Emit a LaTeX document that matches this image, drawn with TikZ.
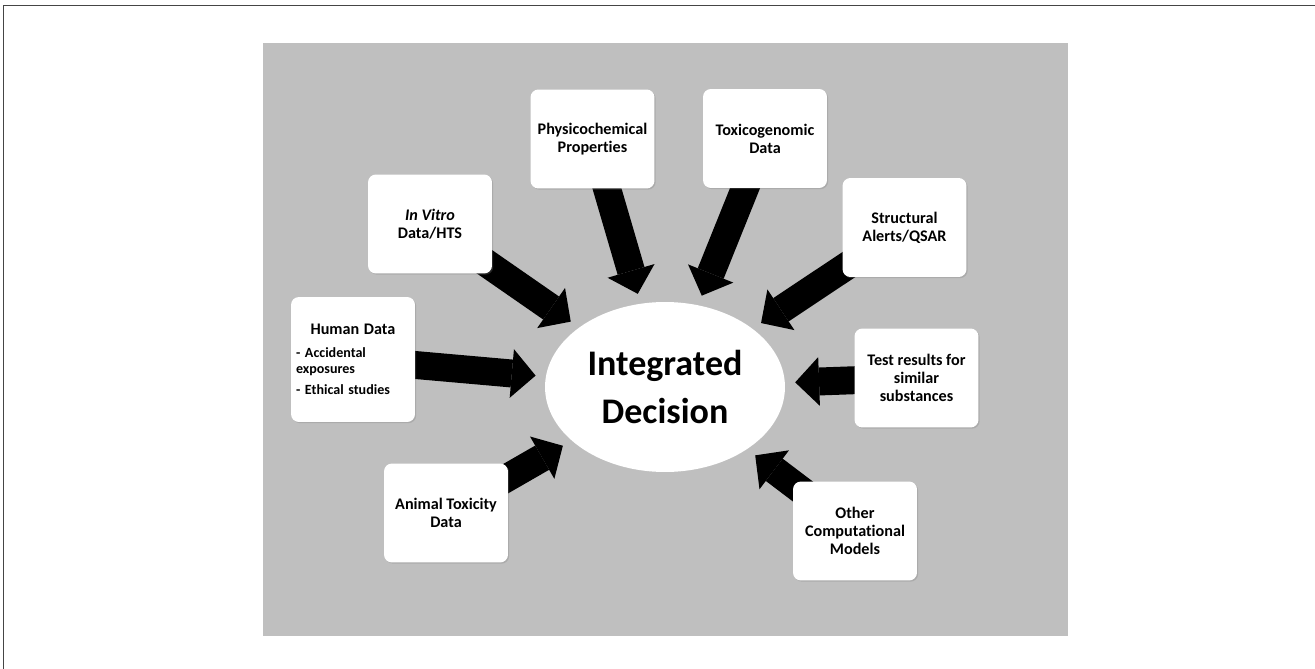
\documentclass[tikz,border=0pt]{standalone}
\usepackage{fontspec}
\setmainfont{Carlito}[Ligatures=NoCommon]
\usetikzlibrary{shapes.geometric,arrows.meta,shadows}
\pgfdeclarelayer{sfondo}
\pgfdeclarelayer{frecce}
\pgfsetlayers{sfondo,frecce,main}
\definecolor{grigio}{HTML}{BFBFBF}
\definecolor{cornice}{HTML}{454545}

\begin{document}
\begin{tikzpicture}[x=0.02cm,y=-0.02cm,font=\bfseries\fontsize{9.2}{10.2}\selectfont,
    scatola/.style={fill=white,rounded corners=4.5pt,minimum width=2.48cm,
      minimum height=1.98cm,align=center,inner sep=2pt,
      drop shadow={shadow xshift=0.7pt,shadow yshift=-0.7pt,opacity=0.3}},
    freccia/.style={line width=15.9pt,shorten >=5.7pt,
      -{Triangle[length=13.6pt,width=27.8pt,line width=0pt]}}]
    \useasboundingbox (0,0) rectangle (1315,669);
    \draw[cornice,line width=1.1pt] (3.5,669) -- (3.5,5.5) -- (1315,5.5); %cornice
    \begin{pgfonlayer}{sfondo}
      \fill[grigio] (263,43) rectangle (1068,636); %sfondo grigio
    \end{pgfonlayer}
    \node[ellipse,fill=white,minimum width=4.8cm,minimum height=3.4cm,inner sep=0pt,
          align=center,font=\bfseries\fontsize{20.5}{27}\selectfont]
          (decisione) at (665,387) {Integrated\\Decision};
    \node[scatola] (vitro) at (430,224) {\textit{In Vitro}\\Data/HTS};
    \node[scatola] (fisico) at (592.5,139) {Physicochemical\\Properties};
    \node[scatola] (tossico) at (765,138.5) {Toxicogenomic\\Data};
    \node[scatola] (strutt) at (904.5,227.5) {Structural\\Alerts/QSAR};
    \node[scatola] (test) at (916.5,378) {Test results for\\similar\\substances};
    \node[scatola] (altri) at (855,531) {Other\\Computational\\Models};
    \node[scatola] (animali) at (446,513) {Animal Toxicity\\Data};
    \node[scatola,minimum height=2.5cm,text width=2.28cm,inner xsep=0.1cm,align=left,
          font=\bfseries\fontsize{8}{9}\selectfont] (umani) at (353,359.5)
          {\makebox[\linewidth]{\fontsize{9.2}{10}\selectfont Human Data}\\[4pt]
           - Accidental\\exposures\\[3pt]- Ethical studies};
    \begin{pgfonlayer}{frecce}
      \draw[freccia] (vitro.center) -- (decisione);
      \draw[freccia] (umani.center) -- (decisione);
      \draw[freccia] (fisico.center) -- (decisione);
      \draw[freccia] (tossico.center) -- (decisione);
      \draw[freccia] (strutt.center) -- (decisione);
      \draw[freccia] (test.center) -- (decisione);
      \draw[freccia] (altri.center) -- (decisione);
      \draw[freccia] (animali.center) -- (decisione);
    \end{pgfonlayer}
  \end{tikzpicture}
\end{document}
